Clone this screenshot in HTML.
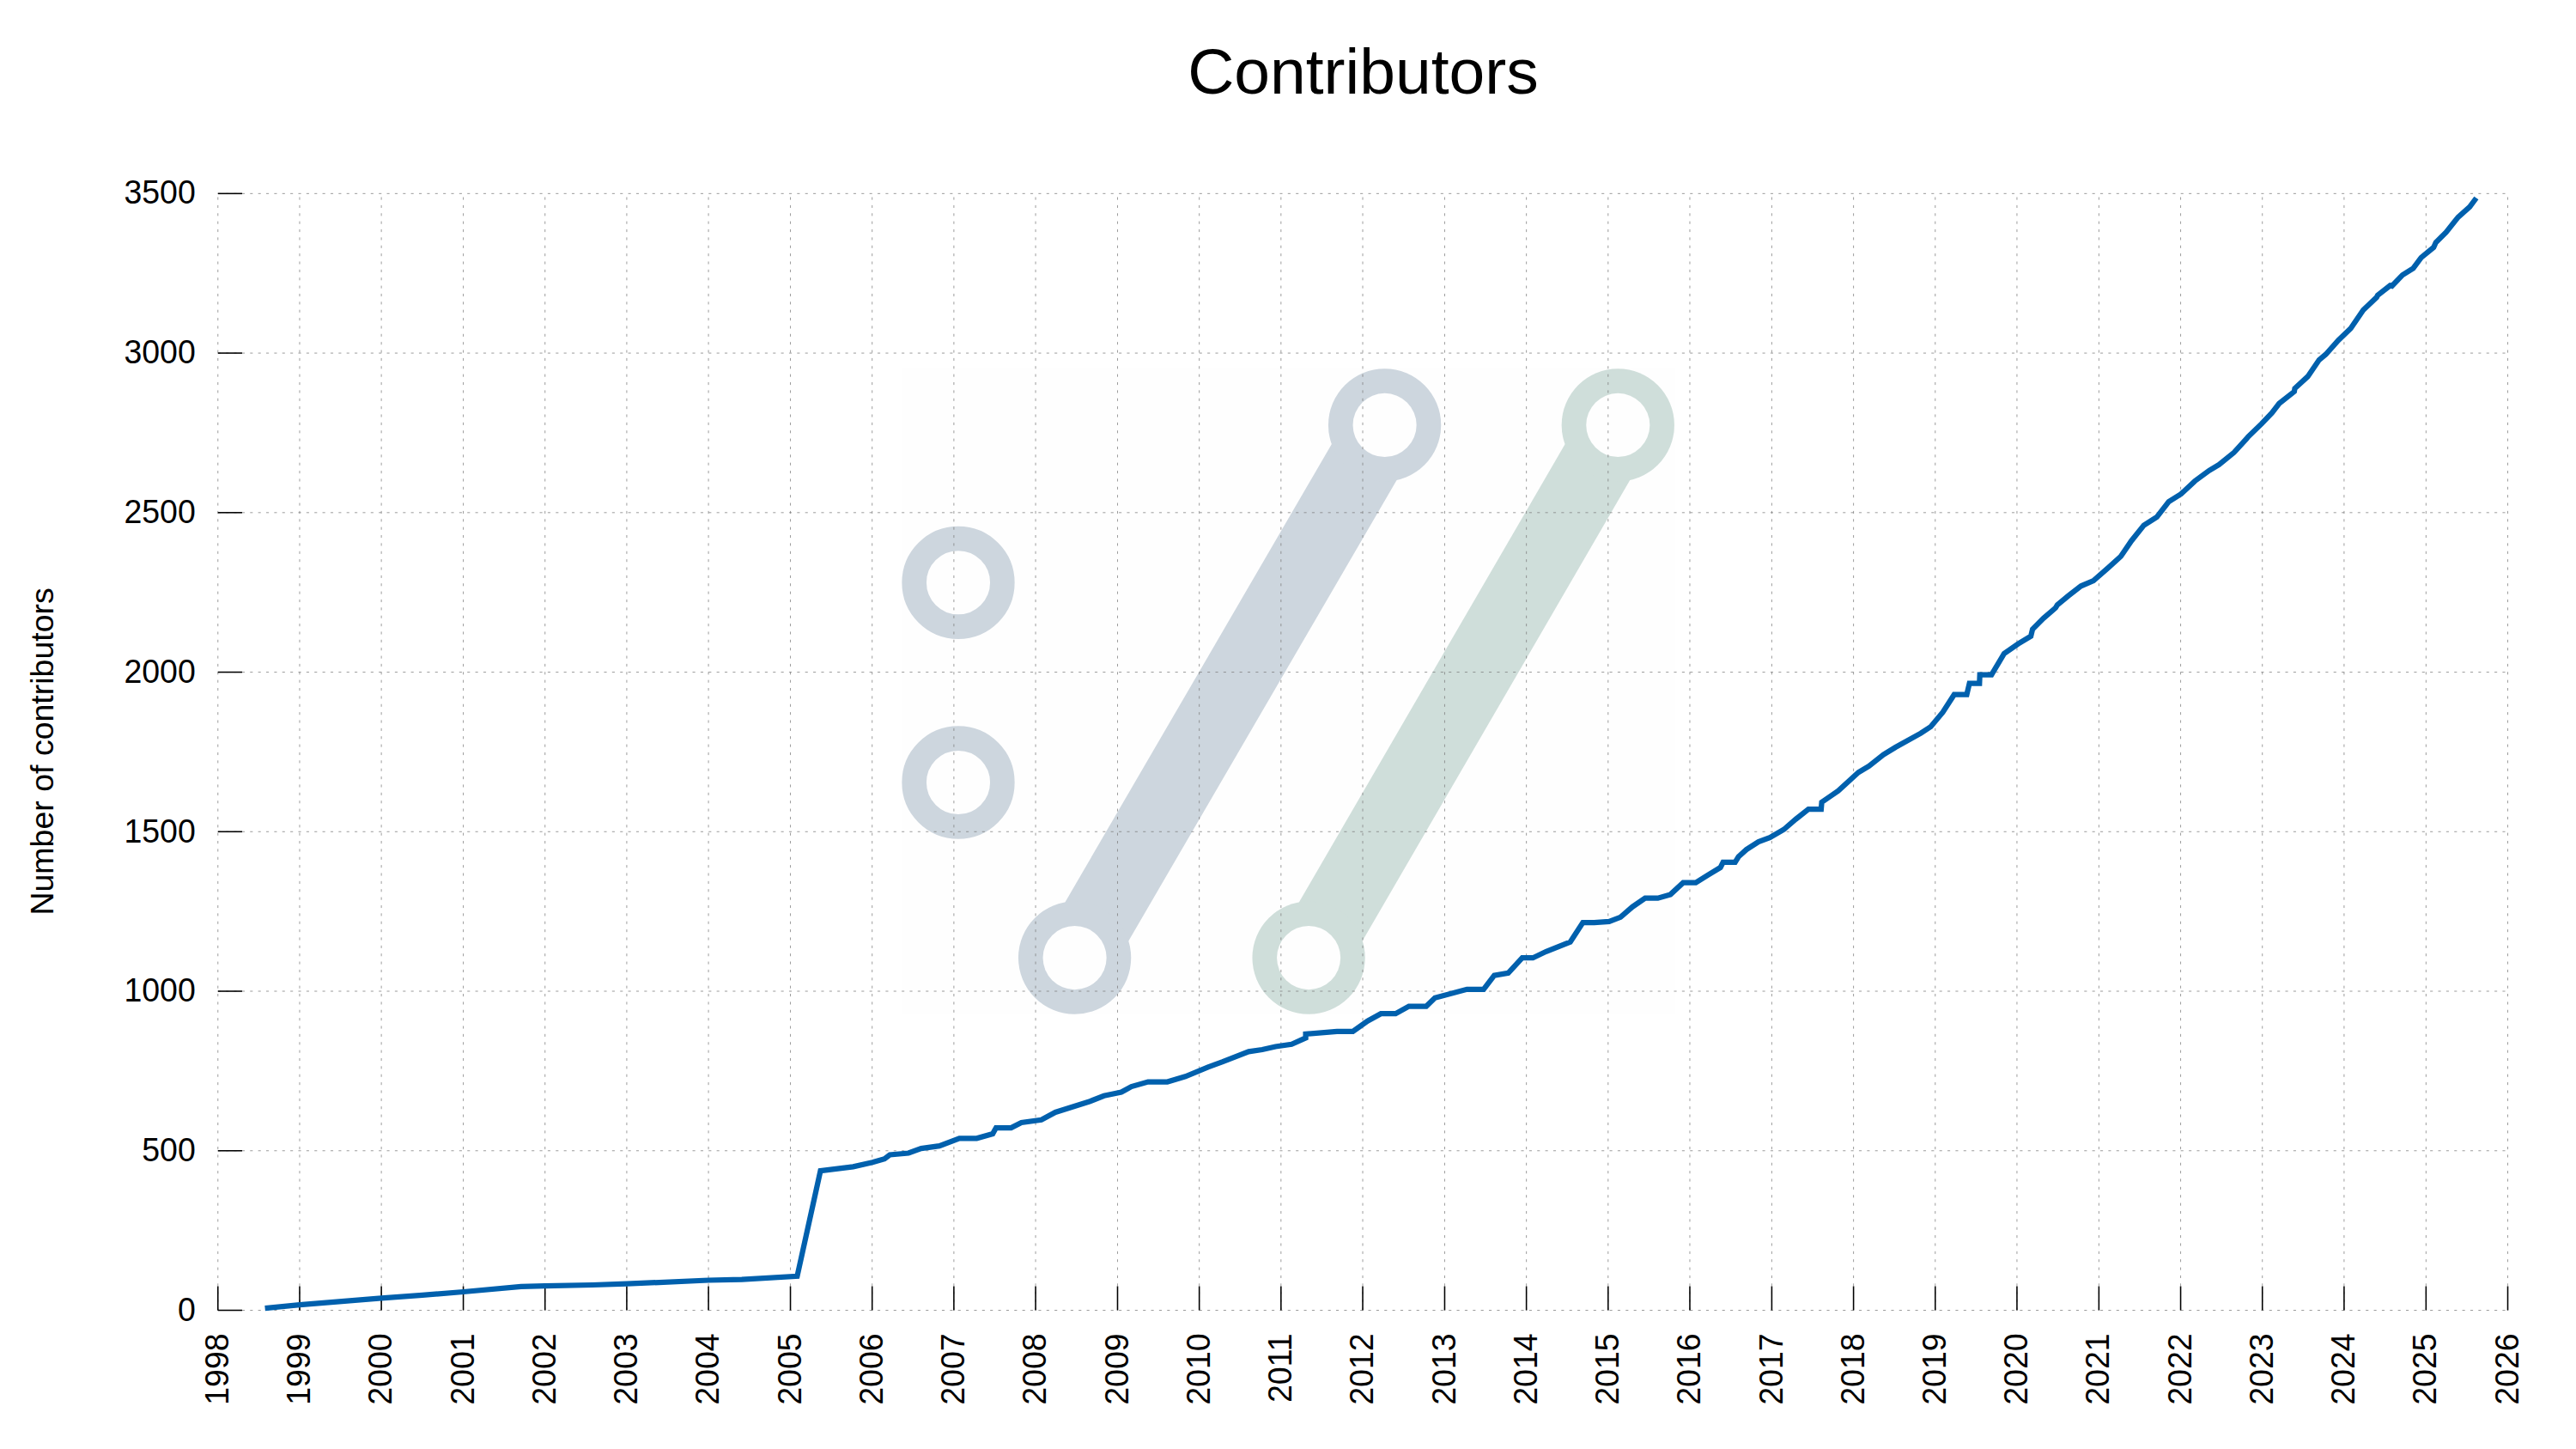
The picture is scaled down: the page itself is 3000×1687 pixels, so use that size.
<!DOCTYPE html>
<html lang="en"><head><meta charset="utf-8"><title>Contributors</title>
<style>
html,body{margin:0;padding:0;background:#fff;}
body{width:3000px;height:1687px;overflow:hidden;}
svg{display:block;}
text{font-family:"Liberation Sans",Arial,Helvetica,sans-serif;fill:#000;}
.t{font-size:37.5px;}
.title{font-size:75px;}
</style></head><body>
<svg width="3000" height="1687" viewBox="0 0 3000 1687">
<rect x="0" y="0" width="3000" height="1687" fill="#ffffff"/>
<g id="logo">
<rect x="1051" y="429" width="899.5" height="752" fill="#fefefe"/>
<circle cx="1116.0" cy="678.3" r="51.35" fill="none" stroke="#cdd6de" stroke-width="28.6"/>
<circle cx="1116.0" cy="911.0" r="51.35" fill="none" stroke="#cdd6de" stroke-width="28.6"/>
<mask id="m1612" maskUnits="userSpaceOnUse" x="0" y="0" width="3000" height="1687"><rect x="0" y="0" width="3000" height="1687" fill="#fff"/><circle cx="1612.6" cy="494.9" r="37.05" fill="#000"/><circle cx="1251.6" cy="1115.1" r="37.05" fill="#000"/></mask>
<g mask="url(#m1612)" fill="#cdd6de"><path d="M1576.1,473.7 L1215.1,1093.9 L1289.9,1137.4 L1650.9,517.2 Z"/><circle cx="1612.6" cy="494.9" r="65.65"/><circle cx="1251.6" cy="1115.1" r="65.65"/></g>
<mask id="m1884" maskUnits="userSpaceOnUse" x="0" y="0" width="3000" height="1687"><rect x="0" y="0" width="3000" height="1687" fill="#fff"/><circle cx="1884.3" cy="494.9" r="37.05" fill="#000"/><circle cx="1524.1" cy="1115.1" r="37.05" fill="#000"/></mask>
<g mask="url(#m1884)" fill="#cfdeda"><path d="M1847.8,473.7 L1487.6,1093.9 L1562.4,1137.3 L1922.6,517.1 Z"/><circle cx="1884.3" cy="494.9" r="65.65"/><circle cx="1524.1" cy="1115.1" r="65.65"/></g>
</g>
<g id="grid" fill="none" stroke="#808080" stroke-width="0.78" stroke-dasharray="3.12 6.2485">
<path d="M253.78,1525.50 L2920.52,1525.50"/>
<path d="M253.78,1339.76 L2920.52,1339.76"/>
<path d="M253.78,1154.03 L2920.52,1154.03"/>
<path d="M253.78,968.29 L2920.52,968.29"/>
<path d="M253.78,782.56 L2920.52,782.56"/>
<path d="M253.78,596.82 L2920.52,596.82"/>
<path d="M253.78,411.08 L2920.52,411.08"/>
<path d="M253.78,225.35 L2920.52,225.35"/>
<path d="M253.78,1525.50 L253.78,225.35"/>
<path d="M348.96,1525.50 L348.96,225.35"/>
<path d="M444.13,1525.50 L444.13,225.35"/>
<path d="M539.57,1525.50 L539.57,225.35"/>
<path d="M634.74,1525.50 L634.74,225.35"/>
<path d="M729.92,1525.50 L729.92,225.35"/>
<path d="M825.09,1525.50 L825.09,225.35"/>
<path d="M920.53,1525.50 L920.53,225.35"/>
<path d="M1015.71,1525.50 L1015.71,225.35"/>
<path d="M1110.88,1525.50 L1110.88,225.35"/>
<path d="M1206.06,1525.50 L1206.06,225.35"/>
<path d="M1301.49,1525.50 L1301.49,225.35"/>
<path d="M1396.67,1525.50 L1396.67,225.35"/>
<path d="M1491.84,1525.50 L1491.84,225.35"/>
<path d="M1587.02,1525.50 L1587.02,225.35"/>
<path d="M1682.46,1525.50 L1682.46,225.35"/>
<path d="M1777.63,1525.50 L1777.63,225.35"/>
<path d="M1872.81,1525.50 L1872.81,225.35"/>
<path d="M1967.98,1525.50 L1967.98,225.35"/>
<path d="M2063.42,1525.50 L2063.42,225.35"/>
<path d="M2158.60,1525.50 L2158.60,225.35"/>
<path d="M2253.77,1525.50 L2253.77,225.35"/>
<path d="M2348.95,1525.50 L2348.95,225.35"/>
<path d="M2444.38,1525.50 L2444.38,225.35"/>
<path d="M2539.56,1525.50 L2539.56,225.35"/>
<path d="M2634.73,1525.50 L2634.73,225.35"/>
<path d="M2729.91,1525.50 L2729.91,225.35"/>
<path d="M2825.35,1525.50 L2825.35,225.35"/>
<path d="M2920.52,1525.50 L2920.52,225.35"/>
</g>
<g id="ticks" fill="none" stroke="#000" stroke-width="1.5625">
<path d="M253.78,1525.50 L281.98,1525.50"/>
<path d="M253.78,1339.76 L281.98,1339.76"/>
<path d="M253.78,1154.03 L281.98,1154.03"/>
<path d="M253.78,968.29 L281.98,968.29"/>
<path d="M253.78,782.56 L281.98,782.56"/>
<path d="M253.78,596.82 L281.98,596.82"/>
<path d="M253.78,411.08 L281.98,411.08"/>
<path d="M253.78,225.35 L281.98,225.35"/>
<path d="M253.78,1525.50 L253.78,1497.50"/>
<path d="M348.96,1525.50 L348.96,1497.50"/>
<path d="M444.13,1525.50 L444.13,1497.50"/>
<path d="M539.57,1525.50 L539.57,1497.50"/>
<path d="M634.74,1525.50 L634.74,1497.50"/>
<path d="M729.92,1525.50 L729.92,1497.50"/>
<path d="M825.09,1525.50 L825.09,1497.50"/>
<path d="M920.53,1525.50 L920.53,1497.50"/>
<path d="M1015.71,1525.50 L1015.71,1497.50"/>
<path d="M1110.88,1525.50 L1110.88,1497.50"/>
<path d="M1206.06,1525.50 L1206.06,1497.50"/>
<path d="M1301.49,1525.50 L1301.49,1497.50"/>
<path d="M1396.67,1525.50 L1396.67,1497.50"/>
<path d="M1491.84,1525.50 L1491.84,1497.50"/>
<path d="M1587.02,1525.50 L1587.02,1497.50"/>
<path d="M1682.46,1525.50 L1682.46,1497.50"/>
<path d="M1777.63,1525.50 L1777.63,1497.50"/>
<path d="M1872.81,1525.50 L1872.81,1497.50"/>
<path d="M1967.98,1525.50 L1967.98,1497.50"/>
<path d="M2063.42,1525.50 L2063.42,1497.50"/>
<path d="M2158.60,1525.50 L2158.60,1497.50"/>
<path d="M2253.77,1525.50 L2253.77,1497.50"/>
<path d="M2348.95,1525.50 L2348.95,1497.50"/>
<path d="M2444.38,1525.50 L2444.38,1497.50"/>
<path d="M2539.56,1525.50 L2539.56,1497.50"/>
<path d="M2634.73,1525.50 L2634.73,1497.50"/>
<path d="M2729.91,1525.50 L2729.91,1497.50"/>
<path d="M2825.35,1525.50 L2825.35,1497.50"/>
<path d="M2920.52,1525.50 L2920.52,1497.50"/>
</g>
<g id="ylabels" class="t" text-anchor="end">
<text transform="translate(227.8,1537.8) scale(1,1.042)">0</text>
<text transform="translate(227.8,1352.1) scale(1,1.042)">500</text>
<text transform="translate(227.8,1166.3) scale(1,1.042)">1000</text>
<text transform="translate(227.8,980.6) scale(1,1.042)">1500</text>
<text transform="translate(227.8,794.9) scale(1,1.042)">2000</text>
<text transform="translate(227.8,609.1) scale(1,1.042)">2500</text>
<text transform="translate(227.8,423.4) scale(1,1.042)">3000</text>
<text transform="translate(227.8,236.9) scale(1,1.042)">3500</text>
</g>
<g id="xlabels" class="t" text-anchor="end">
<text transform="translate(265.88,1552.4) rotate(-90) scale(1,1.042)">1998</text>
<text transform="translate(361.06,1552.4) rotate(-90) scale(1,1.042)">1999</text>
<text transform="translate(456.23,1552.4) rotate(-90) scale(1,1.042)">2000</text>
<text transform="translate(551.67,1552.4) rotate(-90) scale(1,1.042)">2001</text>
<text transform="translate(646.84,1552.4) rotate(-90) scale(1,1.042)">2002</text>
<text transform="translate(742.02,1552.4) rotate(-90) scale(1,1.042)">2003</text>
<text transform="translate(837.19,1552.4) rotate(-90) scale(1,1.042)">2004</text>
<text transform="translate(932.63,1552.4) rotate(-90) scale(1,1.042)">2005</text>
<text transform="translate(1027.81,1552.4) rotate(-90) scale(1,1.042)">2006</text>
<text transform="translate(1122.98,1552.4) rotate(-90) scale(1,1.042)">2007</text>
<text transform="translate(1218.16,1552.4) rotate(-90) scale(1,1.042)">2008</text>
<text transform="translate(1313.59,1552.4) rotate(-90) scale(1,1.042)">2009</text>
<text transform="translate(1408.77,1552.4) rotate(-90) scale(1,1.042)">2010</text>
<text transform="translate(1503.94,1552.4) rotate(-90) scale(1,1.042)">2011</text>
<text transform="translate(1599.12,1552.4) rotate(-90) scale(1,1.042)">2012</text>
<text transform="translate(1694.56,1552.4) rotate(-90) scale(1,1.042)">2013</text>
<text transform="translate(1789.73,1552.4) rotate(-90) scale(1,1.042)">2014</text>
<text transform="translate(1884.91,1552.4) rotate(-90) scale(1,1.042)">2015</text>
<text transform="translate(1980.08,1552.4) rotate(-90) scale(1,1.042)">2016</text>
<text transform="translate(2075.52,1552.4) rotate(-90) scale(1,1.042)">2017</text>
<text transform="translate(2170.70,1552.4) rotate(-90) scale(1,1.042)">2018</text>
<text transform="translate(2265.87,1552.4) rotate(-90) scale(1,1.042)">2019</text>
<text transform="translate(2361.05,1552.4) rotate(-90) scale(1,1.042)">2020</text>
<text transform="translate(2456.48,1552.4) rotate(-90) scale(1,1.042)">2021</text>
<text transform="translate(2551.66,1552.4) rotate(-90) scale(1,1.042)">2022</text>
<text transform="translate(2646.83,1552.4) rotate(-90) scale(1,1.042)">2023</text>
<text transform="translate(2742.01,1552.4) rotate(-90) scale(1,1.042)">2024</text>
<text transform="translate(2837.45,1552.4) rotate(-90) scale(1,1.042)">2025</text>
<text transform="translate(2932.62,1552.4) rotate(-90) scale(1,1.042)">2026</text>
</g>
<text class="t" text-anchor="middle" transform="translate(62.2,874.9) rotate(-90) scale(1,1.0)">Number of contributors</text>
<text class="title" text-anchor="middle" transform="translate(1587.4,109.3) scale(1,1.0)">Contributors</text>
<path id="line" d="M308.6,1523.1 L349.0,1519.2 L444.0,1511.4 L491.9,1507.9 L539.7,1504.0 L606.8,1497.8 L634.7,1497.1 L690.0,1496.0 L729.9,1494.7 L825.1,1490.5 L863.9,1489.6 L928.4,1485.8 L955.5,1363.2 L993.6,1358.4 L1016.1,1353.3 L1030.1,1349.2 L1036.3,1344.5 L1058.0,1342.5 L1072.8,1337.1 L1094.0,1334.2 L1117.3,1325.3 L1137.5,1325.3 L1156.1,1320.1 L1160.0,1313.1 L1177.5,1313.1 L1189.5,1307.0 L1212.8,1303.8 L1229.1,1294.9 L1269.4,1282.2 L1285.7,1275.8 L1305.9,1271.6 L1317.6,1265.1 L1337.0,1259.6 L1359.5,1259.6 L1380.5,1253.3 L1406.9,1242.4 L1423.9,1236.2 L1454.2,1224.3 L1470.0,1222.0 L1485.5,1218.5 L1504.2,1215.8 L1520.6,1208.4 L1520.6,1203.8 L1557.0,1200.8 L1575.6,1200.8 L1592.7,1188.7 L1608.2,1180.2 L1625.3,1180.2 L1640.8,1171.5 L1661.0,1171.5 L1671.1,1161.8 L1708.4,1151.8 L1727.8,1151.8 L1740.2,1135.7 L1756.5,1132.8 L1772.8,1115.2 L1785.2,1115.2 L1800.7,1107.8 L1828.7,1096.6 L1843.4,1074.1 L1856.6,1074.1 L1874.0,1072.9 L1887.2,1067.8 L1901.1,1055.8 L1915.9,1045.7 L1930.7,1045.7 L1945.4,1041.4 L1960.2,1027.7 L1974.9,1027.7 L1988.9,1018.9 L2003.6,1010.0 L2006.7,1003.8 L2020.7,1003.8 L2024.6,997.5 L2033.9,989.1 L2047.9,980.1 L2061.1,975.1 L2077.4,965.8 L2091.4,953.7 L2106.1,942.0 L2120.9,942.0 L2121.6,933.9 L2131.7,927.0 L2140.7,920.7 L2164.3,899.3 L2176.6,892.0 L2193.5,878.6 L2207.5,870.0 L2237.0,853.7 L2248.6,846.0 L2262.6,829.2 L2275.8,808.7 L2290.5,808.7 L2293.6,795.5 L2305.3,795.5 L2305.7,785.7 L2319.3,785.7 L2334.0,761.0 L2350.3,749.7 L2365.1,740.7 L2367.1,732.6 L2379.8,719.9 L2393.8,707.8 L2395.9,704.3 L2409.0,693.5 L2423.5,682.3 L2438.0,676.1 L2455.4,660.9 L2469.9,647.8 L2482.2,629.7 L2496.7,611.6 L2511.9,601.9 L2525.7,584.1 L2540.1,575.1 L2556.1,560.1 L2572.8,547.8 L2584.3,541.0 L2601.7,526.8 L2616.2,510.9 L2618.1,508.5 L2633.8,493.4 L2645.9,480.7 L2654.3,469.8 L2671.9,455.9 L2672.5,452.3 L2687.6,438.4 L2700.8,419.1 L2708.7,412.5 L2723.2,396.2 L2737.7,382.3 L2752.2,361.1 L2767.9,346.0 L2769.0,343.9 L2783.5,332.5 L2785.6,333.0 L2798.0,320.1 L2810.4,312.3 L2819.7,299.9 L2834.2,288.0 L2836.8,282.3 L2848.7,270.4 L2862.7,252.8 L2876.2,240.9 L2883.9,230.5" fill="none" stroke="#0060ad" stroke-width="6.25" stroke-linejoin="miter" stroke-linecap="butt"/>
</svg>
</body></html>
